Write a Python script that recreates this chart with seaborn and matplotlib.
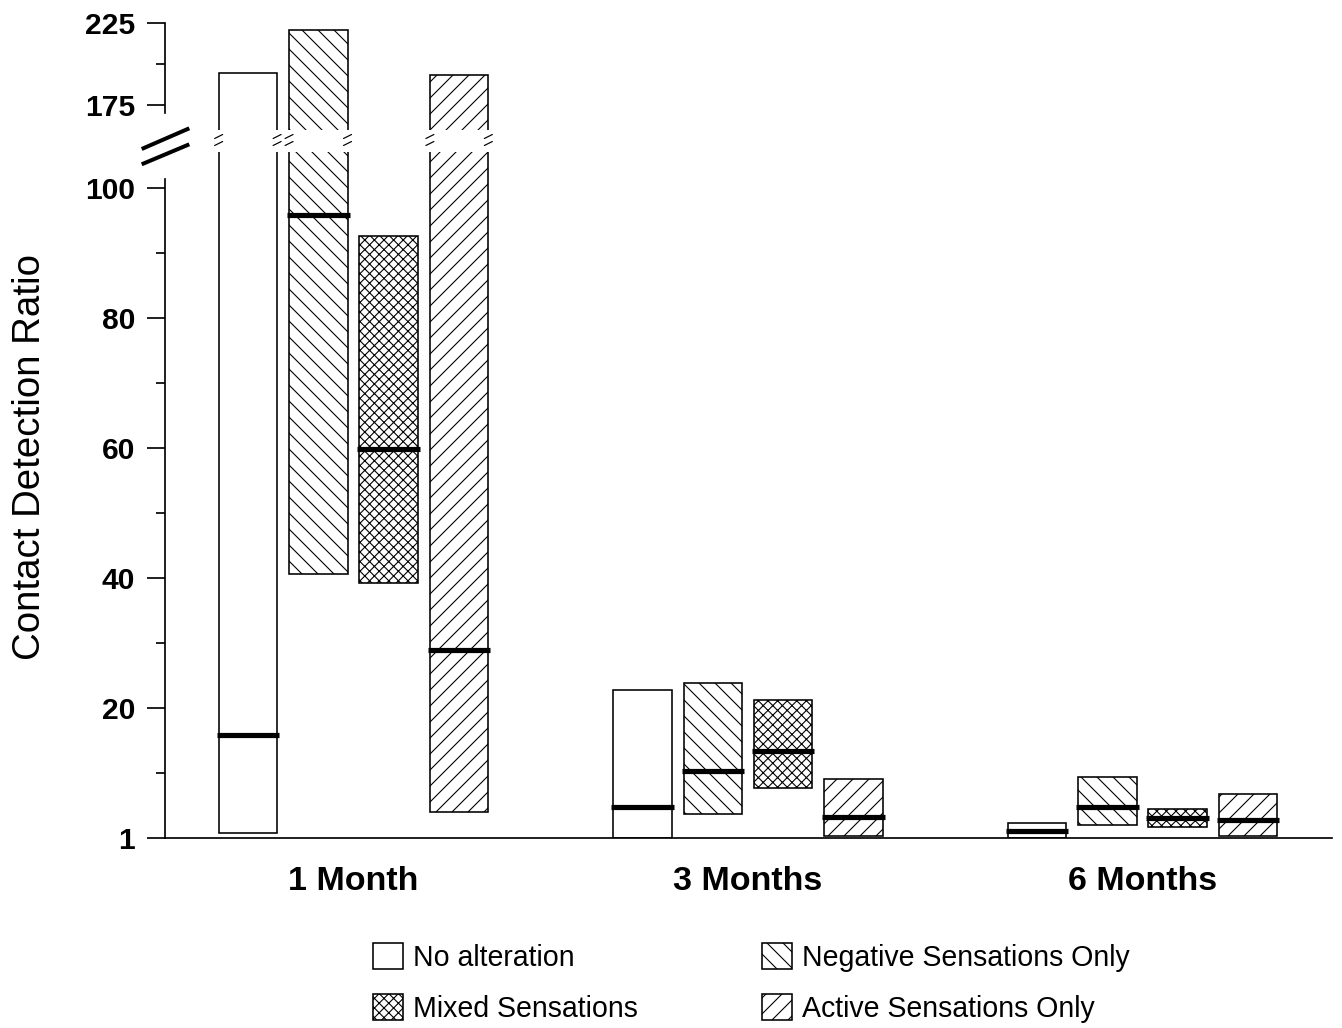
import numpy as np
import pandas as pd
import matplotlib
matplotlib.use("Agg")
import matplotlib.pyplot as plt
import matplotlib.transforms as mtransforms
from matplotlib.patches import Patch
from matplotlib.lines import Line2D
import seaborn as sns

# ---------------- data (axis units; tick at 0 is labelled "1") ----------------
periods = ["1 Month", "3 Months", "6 Months"]
groups = ["No alteration", "Negative Sensations Only", "Mixed Sensations", "Active Sensations Only"]

low_no_alt = [0.7, 0.0, 0.0]
high_no_alt = [194.3, 22.8, 2.2]
med_no_alt = [15.8, 4.8, 1.0]

low_negative = [40.6, 3.6, 2.0]
high_negative = [220.6, 23.8, 9.4]
med_negative = [95.8, 10.2, 4.7]

low_mixed = [39.2, 7.6, 1.7]
high_mixed = [92.6, 21.2, 4.4]
med_mixed = [59.8, 13.4, 3.0]

low_active = [3.9, 0.3, 0.3]
high_active = [193.2, 9.1, 6.7]
med_active = [28.9, 3.2, 2.7]

lower_ticks = [0, 20, 40, 60, 80, 100]
lower_tick_labels = ["1", "20", "40", "60", "80", "100"]
lower_minor_ticks = [10, 30, 50, 70, 90]
upper_ticks = [175, 225]
upper_tick_labels = ["175", "225"]
upper_minor_ticks = [200]

y_label = "Contact Detection Ratio"

# ---------------- styling ----------------
DPI = 144
W, H = 1342, 1028
sns.set_theme(style="ticks", rc={
    "axes.linewidth": 0.85,
    "hatch.linewidth": 0.55,
    "xtick.major.width": 0.85,
    "ytick.major.width": 0.85,
    "ytick.minor.width": 0.85,
    "axes.edgecolor": "black",
    "text.color": "black",
    "xtick.color": "black",
    "ytick.color": "black",
    "axes.labelcolor": "black",
})
plt.rcParams["font.family"] = ["Liberation Sans", "DejaVu Sans"]

fig = plt.figure(figsize=(W / DPI, H / DPI), dpi=DPI)
fig.patch.set_facecolor("white")


def px_rect(x0, y0, x1, y1):
    return [x0 / W, 1 - y1 / H, (x1 - x0) / W, (y1 - y0) / H]


ax_hi = fig.add_axes(px_rect(165, 20, 1331.7, 130))
ax_lo = fig.add_axes(px_rect(165, 152, 1331.7, 837.7))

df = pd.DataFrame({
    "period": periods * 4,
    "group": np.repeat(groups, len(periods)),
    "low": low_no_alt + low_negative + low_mixed + low_active,
    "high": high_no_alt + high_negative + high_mixed + high_active,
    "median": med_no_alt + med_negative + med_mixed + med_active,
})
df["span"] = df["high"] - df["low"]

hatches = {
    "No alteration": "",
    "Negative Sensations Only": "\\\\\\",
    "Mixed Sensations": "xxxxx",
    "Active Sensations Only": "///",
}

BAR_WIDTH = 0.714
GAP = 0.17
n_h = len(groups)

bar_geom = {}
for ax in (ax_hi, ax_lo):
    sns.barplot(data=df, x="period", y="span", hue="group",
                order=periods, hue_order=groups,
                palette={g: "white" for g in groups},
                width=BAR_WIDTH, gap=GAP, errorbar=None,
                edgecolor="black", linewidth=0.8, legend=False, ax=ax)
    for patch in ax.patches:
        cx = patch.get_x() + patch.get_width() / 2
        pi = int(round(cx))
        hi = int(round((cx - pi) / (BAR_WIDTH / n_h) + (n_h - 1) / 2))
        row = df[(df.period == periods[pi]) & (df.group == groups[hi])].iloc[0]
        patch.set_y(row["low"])
        patch.set_height(row["high"] - row["low"])
        patch.set_hatch(hatches[groups[hi]])
        patch.set_facecolor("white")
        patch.set_edgecolor("black")
        if ax is ax_lo:
            bar_geom[(pi, hi)] = (patch.get_x(), patch.get_width(), row)

x_left = (165 - 353.5) / 394.5
x_right = (1331.7 - 353.5) / 394.5
for ax in (ax_hi, ax_lo):
    ax.set_xlim(x_left, x_right)
    ax.set_xlabel("")
    ax.set_ylabel("")
    ax.set_facecolor("none")
    ax.spines["top"].set_visible(False)
    ax.spines["right"].set_visible(False)

# medians
ext = 2.0 / 394.5
for (pi, hi), (x0, w, row) in bar_geom.items():
    ax_lo.hlines(row["median"], x0 - ext, x0 + w + ext, colors="black",
                 linewidth=2.6, zorder=6)

# upper axis
ax_hi.set_ylim(159.8, 226.6)
ax_hi.spines["bottom"].set_visible(False)
ax_hi.spines["left"].set_bounds(170, 225)
ax_hi.set_xticks([])
ax_hi.set_yticks(upper_ticks)
ax_hi.set_yticklabels(upper_tick_labels)
ax_hi.set_yticks(upper_minor_ticks, minor=True)

# lower axis
ax_lo.set_ylim(0, 105.5)
ax_lo.spines["left"].set_bounds(0, 101.4)
ax_lo.set_yticks(lower_ticks)
ax_lo.set_yticklabels(lower_tick_labels)
ax_lo.set_yticks(lower_minor_ticks, minor=True)
ax_lo.set_xticks(range(len(periods)))
ax_lo.set_xticklabels(periods)

for ax in (ax_hi, ax_lo):
    ax.tick_params(axis="y", which="major", direction="out", length=9, width=0.85,
                   pad=6, labelsize=15, left=True)
    ax.tick_params(axis="y", which="minor", direction="out", length=4.5, width=0.85, left=True)
    for t in ax.get_yticklabels():
        t.set_fontweight("bold")
ax_lo.tick_params(axis="x", length=0, pad=14, labelsize=17, bottom=True)
for t in ax_lo.get_xticklabels():
    t.set_fontweight("bold")

ax_lo.set_ylabel(y_label, fontsize=19.2, fontweight="normal")
ax_lo.yaxis.label.set_va("center")
ax_lo.yaxis.set_label_coords((30 - 165) / (1331.7 - 165), (837.7 - 457) / (837.7 - 152))

# break marks on y axis (figure pixel coordinates)
def fig_pt(x, y):
    return x / W, 1 - y / H

for (xa, ya, xb, yb) in [(141.7, 149, 189.3, 128.3), (141.7, 164.3, 189.3, 144.3)]:
    (fx0, fy0), (fx1, fy1) = fig_pt(xa, ya), fig_pt(xb, yb)
    fig.add_artist(Line2D([fx0, fx1], [fy0, fy1], transform=fig.transFigure,
                          color="black", linewidth=2.0, solid_capstyle="butt"))

# small break marks on bars crossing the break
blend = mtransforms.blended_transform_factory(ax_lo.transData, fig.transFigure)
dx = 4.0 / 394.5
for (pi, hi), (x0, w, row) in bar_geom.items():
    if row["high"] > 105.5:
        for xe in (x0, x0 + w):
            for ypx in (136.5, 143.5):
                fig.add_artist(Line2D([xe - dx, xe + dx],
                                      [1 - (ypx + 2) / H, 1 - (ypx - 2) / H],
                                      transform=blend, color="black", linewidth=0.6))

# legend
handles = [Patch(facecolor="white", edgecolor="black", hatch=hatches[g], linewidth=0.8)
           for g in groups]
order = [0, 2, 1, 3]
leg = fig.legend([handles[i] for i in order], [groups[i] for i in order],
                 ncol=2, loc="upper left", bbox_to_anchor=(373 / W, 1 - 943 / H),
                 frameon=False, fontsize=14.25, handlelength=1.05, handleheight=1.02,
                 handletextpad=0.35, columnspacing=4.35, labelspacing=0.8,
                 borderpad=0, borderaxespad=0)

fig.savefig("out.png", dpi=DPI, facecolor="white")
